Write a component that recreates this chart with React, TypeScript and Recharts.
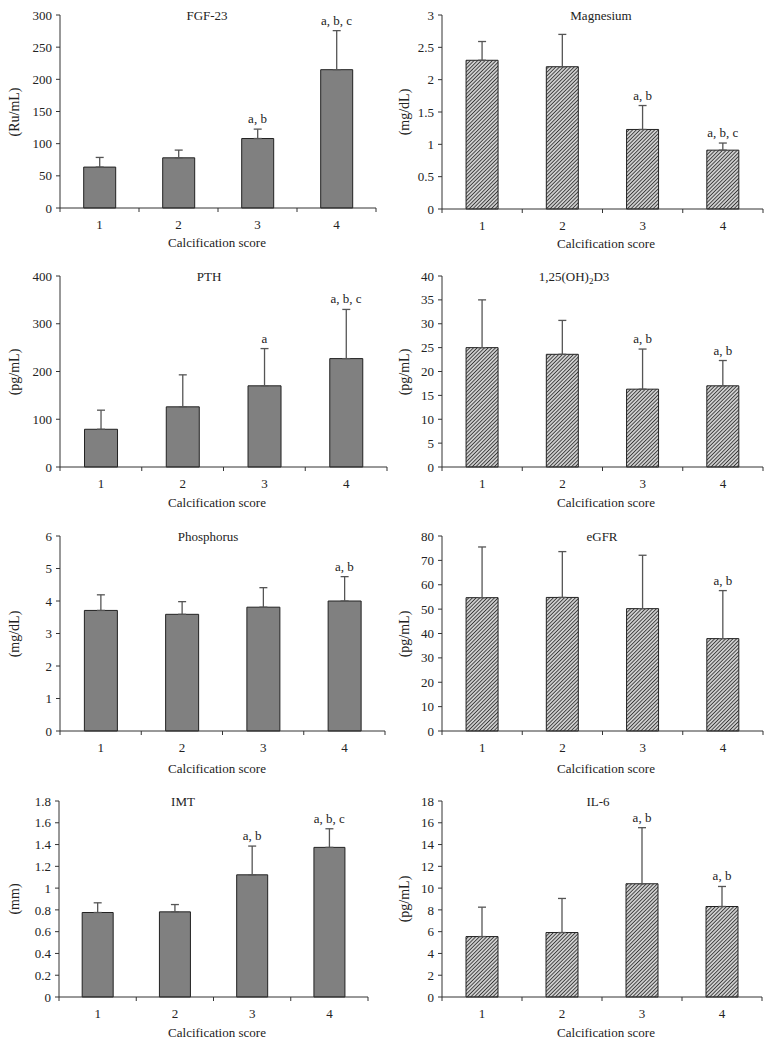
import React from 'react';
import { ComposedChart, Bar, Line, XAxis, YAxis, ErrorBar, LabelList } from 'recharts';

const SCORES = ['1', '2', '3', '4'];

// FGF-23
const FGF_MEAN = [63.6, 78, 108, 215];
const FGF_SD = [15, 12, 14.6, 60.7];
const FGF_NOTE = ['', '', 'a, b', 'a, b, c'];
const FGF_TICKS = [0, 50, 100, 150, 200, 250, 300];

// Magnesium
const MG_MEAN = [2.3, 2.2, 1.23, 0.91];
const MG_SD = [0.29, 0.5, 0.37, 0.11];
const MG_NOTE = ['', '', 'a, b', 'a, b, c'];
const MG_TICKS = [0, 0.5, 1, 1.5, 2, 2.5, 3];

// PTH
const PTH_MEAN = [79, 126, 170, 227];
const PTH_SD = [40, 67, 78, 103];
const PTH_NOTE = ['', '', 'a', 'a, b, c'];
const PTH_TICKS = [0, 100, 200, 300, 400];

// 1,25(OH)2D3
const D3_MEAN = [25.0, 23.6, 16.3, 17.0];
const D3_SD = [10.0, 7.1, 8.4, 5.3];
const D3_NOTE = ['', '', 'a, b', 'a, b'];
const D3_TICKS = [0, 5, 10, 15, 20, 25, 30, 35, 40];

// Phosphorus
const PHOS_MEAN = [3.71, 3.59, 3.81, 4.0];
const PHOS_SD = [0.48, 0.39, 0.6, 0.75];
const PHOS_NOTE = ['', '', '', 'a, b'];
const PHOS_TICKS = [0, 1, 2, 3, 4, 5, 6];

// eGFR
const EGFR_MEAN = [54.7, 54.8, 50.2, 37.9];
const EGFR_SD = [20.8, 18.8, 21.9, 19.7];
const EGFR_NOTE = ['', '', '', 'a, b'];
const EGFR_TICKS = [0, 10, 20, 30, 40, 50, 60, 70, 80];

// IMT
const IMT_MEAN = [0.776, 0.782, 1.122, 1.374];
const IMT_SD = [0.089, 0.067, 0.264, 0.171];
const IMT_NOTE = ['', '', 'a, b', 'a, b, c'];
const IMT_TICKS = [0, 0.2, 0.4, 0.6, 0.8, 1, 1.2, 1.4, 1.6, 1.8];

// IL-6
const IL6_MEAN = [5.55, 5.92, 10.4, 8.31];
const IL6_SD = [2.7, 3.13, 5.15, 1.84];
const IL6_NOTE = ['', '', 'a, b', 'a, b'];
const IL6_TICKS = [0, 2, 4, 6, 8, 10, 12, 14, 16, 18];

const FONT = '"Liberation Serif", "DejaVu Serif", serif';
const AXIS = '#333';
const TEXT = '#222';

type Panel = {
    id: string;
    title: React.ReactNode;
    unit: string;
    mean: number[];
    sd: number[];
    note: string[];
    ticks: number[];
    hatched: boolean;
};

const PANELS: Panel[] = [
    { id: 'fgf', title: 'FGF-23', unit: '(Ru/mL)', mean: FGF_MEAN, sd: FGF_SD, note: FGF_NOTE, ticks: FGF_TICKS, hatched: false },
    { id: 'mg', title: 'Magnesium', unit: '(mg/dL)', mean: MG_MEAN, sd: MG_SD, note: MG_NOTE, ticks: MG_TICKS, hatched: true },
    { id: 'pth', title: 'PTH', unit: '(pg/mL)', mean: PTH_MEAN, sd: PTH_SD, note: PTH_NOTE, ticks: PTH_TICKS, hatched: false },
    {
        id: 'd3',
        title: <>1,25(OH)<sub style={{ fontSize: 9, verticalAlign: 'baseline', position: 'relative', top: 3 }}>2</sub>D3</>,
        unit: '(pg/mL)', mean: D3_MEAN, sd: D3_SD, note: D3_NOTE, ticks: D3_TICKS, hatched: true,
    },
    { id: 'phos', title: 'Phosphorus', unit: '(mg/dL)', mean: PHOS_MEAN, sd: PHOS_SD, note: PHOS_NOTE, ticks: PHOS_TICKS, hatched: false },
    { id: 'egfr', title: 'eGFR', unit: '(pg/mL)', mean: EGFR_MEAN, sd: EGFR_SD, note: EGFR_NOTE, ticks: EGFR_TICKS, hatched: true },
    { id: 'imt', title: 'IMT', unit: '(mm)', mean: IMT_MEAN, sd: IMT_SD, note: IMT_NOTE, ticks: IMT_TICKS, hatched: false },
    { id: 'il6', title: 'IL-6', unit: '(pg/mL)', mean: IL6_MEAN, sd: IL6_SD, note: IL6_NOTE, ticks: IL6_TICKS, hatched: true },
];

// plot area of each panel on the page (left, top, right, bottom), title centre, x title offset
const LAYOUT = [
    { col: 0, L: 60, T: 15, R: 376, B: 208, titleX: 207, xLab: 34 },
    { col: 390, L: 442, T: 15, R: 763, B: 209, titleX: 601, xLab: 34 },
    { col: 0, L: 60, T: 276, R: 387, B: 467, titleX: 209, xLab: 35 },
    { col: 390, L: 442, T: 276, R: 763, B: 467, titleX: 574, xLab: 35 },
    { col: 0, L: 60, T: 536, R: 385, B: 731, titleX: 208, xLab: 37 },
    { col: 390, L: 442, T: 536, R: 763, B: 731, titleX: 602, xLab: 37 },
    { col: 0, L: 59, T: 801, R: 368, B: 997, titleX: 183, xLab: 35 },
    { col: 390, L: 442, T: 801, R: 762, B: 997, titleX: 598, xLab: 35 },
];

const COL_W = 389;
const TOP_PAD = 12;
const X_AXIS_H = 30;

// x axis tick: label in the middle of the category, tick marks on the category edges
function makeXTick(bandWidth: number) {
    return function XTick(props: any) {
        const { x, y, payload } = props;
        const last = payload.value === SCORES[SCORES.length - 1];
        return (
            <g>
                <line x1={x - bandWidth / 2} x2={x - bandWidth / 2} y1={y} y2={y + 4} stroke={AXIS} />
                {last && <line x1={x + bandWidth / 2} x2={x + bandWidth / 2} y1={y} y2={y + 4} stroke={AXIS} />}
                <text x={x} y={y + 21} textAnchor="middle" fontSize={13} fontFamily={FONT} fill={TEXT}>
                    {payload.value}
                </text>
            </g>
        );
    };
}

function PanelChart({ panel, box }: { panel: Panel; box: typeof LAYOUT[number] }) {
    const data = SCORES.map((score, i) => ({
        score,
        mean: panel.mean[i],
        err: [0, panel.sd[i]],
        top: panel.mean[i] + panel.sd[i],
        note: panel.note[i],
    }));
    const height = box.B - box.T + TOP_PAD + X_AXIS_H;
    const bandWidth = (box.R - box.L) / SCORES.length;
    const fill = panel.hatched ? `url(#hatch-${panel.id})` : '#808080';
    const yMax = panel.ticks[panel.ticks.length - 1];
    const midY = (box.T + box.B) / 2;

    return (
        <>
            <div style={{ position: 'absolute', left: box.col, top: box.T - TOP_PAD }}>
                <ComposedChart
                    width={COL_W}
                    height={height}
                    data={data}
                    barCategoryGap="30%"
                    margin={{ top: TOP_PAD, right: box.col + COL_W - box.R, bottom: 0, left: 0 }}
                >
                    <defs>
                        <pattern id={`hatch-${panel.id}`} patternUnits="userSpaceOnUse" width={2.6} height={2.6} patternTransform="rotate(45)">
                            <rect width={2.6} height={2.6} fill="#fff" />
                            <line x1={1.3} y1={0} x2={1.3} y2={2.6} stroke="#3a3a3a" strokeWidth={1.3} />
                        </pattern>
                    </defs>
                    <XAxis
                        dataKey="score"
                        height={X_AXIS_H}
                        axisLine={{ stroke: AXIS }}
                        tickLine={false}
                        tickSize={0}
                        tickMargin={0}
                        interval={0}
                        tick={makeXTick(bandWidth)}
                    />
                    <YAxis
                        width={box.L - box.col}
                        domain={[0, yMax]}
                        ticks={panel.ticks}
                        interval={0}
                        axisLine={{ stroke: AXIS }}
                        tickLine={{ stroke: AXIS }}
                        tickSize={4}
                        tickMargin={4}
                        tick={{ fontSize: 13, fill: TEXT, fontFamily: FONT }}
                    />
                    <Bar dataKey="mean" fill={fill} stroke="#222" strokeWidth={1} isAnimationActive={false}>
                        <ErrorBar dataKey="err" direction="y" width={4} stroke="#555" strokeWidth={1.3} />
                    </Bar>
                    <Line
                        dataKey="top"
                        stroke="none"
                        dot={false}
                        activeDot={false}
                        isAnimationActive={false}
                    >
                        <LabelList dataKey="note" position="top" offset={6} fontSize={13} fontFamily={FONT} fill={TEXT} />
                    </Line>
                </ComposedChart>
            </div>
            <div style={{ position: 'absolute', left: box.titleX, top: box.T, transform: 'translate(-50%, -50%)', fontSize: 13, lineHeight: 1, whiteSpace: 'nowrap', color: TEXT }}>
                {panel.title}
            </div>
            <div style={{ position: 'absolute', left: box.col + 15, top: midY, transform: 'translate(-50%, -50%) rotate(-90deg)', fontSize: 14, lineHeight: 1, whiteSpace: 'nowrap', color: TEXT }}>
                {panel.unit}
            </div>
            <div style={{ position: 'absolute', left: box.col === 0 ? 217 : 606, top: box.B + box.xLab, transform: 'translate(-50%, -50%)', fontSize: 13, lineHeight: 1, whiteSpace: 'nowrap', color: TEXT }}>
                Calcification score
            </div>
        </>
    );
}

export default function App() {
    return (
        <div style={{ position: 'absolute', left: 0, top: 0, width: 779, height: 1043, overflow: 'hidden', background: '#fff', fontFamily: FONT }}>
            {PANELS.map((panel, i) => (
                <PanelChart key={panel.id} panel={panel} box={LAYOUT[i]} />
            ))}
        </div>
    );
}
